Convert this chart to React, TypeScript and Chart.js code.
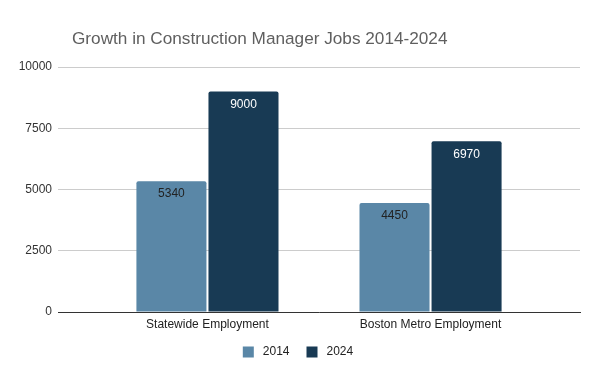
import React, { useEffect, useRef } from "react";
import { Chart, registerables } from "chart.js";

Chart.register(...registerables);

const categories = ["Statewide Employment", "Boston Metro Employment"];
const seriesNames = ["2014", "2024"];
const values2014 = [5340, 4450];
const values2024 = [9000, 6970];
const yTicks = [0, 2500, 5000, 7500, 10000];
const titleText = "Growth in Construction Manager Jobs 2014-2024";

const colors = ["#5a87a7", "#183a54"];
const labelColors = ["#222222", "#ffffff"];
const FONT = "'Liberation Sans', Arial, sans-serif";

const dataLabelPlugin = {
  id: "dataLabels",
  afterDatasetsDraw(chart: any) {
    const ctx = chart.ctx;
    ctx.save();
    ctx.font = `12px ${FONT}`;
    ctx.textAlign = "center";
    ctx.textBaseline = "middle";
    chart.data.datasets.forEach((ds: any, di: number) => {
      const meta = chart.getDatasetMeta(di);
      meta.data.forEach((bar: any, i: number) => {
        const v = ds.data[i].y;
        ctx.fillStyle = labelColors[di];
        ctx.fillText(String(v), bar.x, bar.y + 13);
      });
    });
    ctx.restore();
  },
};

const titleLegendPlugin = {
  id: "titleLegend",
  afterDraw(chart: any) {
    const ctx = chart.ctx;
    ctx.save();
    // title
    ctx.font = `17.2px ${FONT}`;
    ctx.fillStyle = "#5f5f5f";
    ctx.textAlign = "left";
    ctx.textBaseline = "alphabetic";
    ctx.fillText(titleText, 72, 44);
    // legend
    ctx.font = `12px ${FONT}`;
    ctx.textBaseline = "middle";
    const box = 11;
    const gapText = 9;
    const gapItem = 17;
    const widths = seriesNames.map((n) => box + gapText + ctx.measureText(n).width);
    const total = widths.reduce((a, b) => a + b, 0) + gapItem * (seriesNames.length - 1);
    let x = 298 - total / 2;
    const cy = 352;
    seriesNames.forEach((n, i) => {
      ctx.fillStyle = colors[i];
      ctx.fillRect(x, cy - box / 2, box, box);
      ctx.fillStyle = "#222222";
      ctx.fillText(n, x + box + gapText, cy);
      x += widths[i] + gapItem;
    });
    ctx.restore();
  },
};

export default function App() {
  const ref = useRef<HTMLCanvasElement | null>(null);
  useEffect(() => {
    document.body.style.margin = "0";
    const canvas = ref.current!;
    const chart = new Chart(canvas, {
      type: "bar",
      data: {
        datasets: [
          {
            label: seriesNames[0],
            data: values2014.map((y, i) => ({ x: i, y })),
            backgroundColor: colors[0],
            borderRadius: { topLeft: 2, topRight: 2 },
            borderSkipped: "bottom",
          },
          {
            label: seriesNames[1],
            data: values2024.map((y, i) => ({ x: i, y })),
            backgroundColor: colors[1],
            borderRadius: { topLeft: 2, topRight: 2 },
            borderSkipped: "bottom",
          },
        ],
      },
      options: {
        animation: false,
        responsive: false,
        maintainAspectRatio: false,
        categoryPercentage: 0.646,
        barPercentage: 0.972,
        layout: { padding: { left: 0, right: 22, top: 67, bottom: 45 } },
        scales: {
          x: {
            type: "linear",
            offset: false,
            min: -0.67,
            max: 1.67,
            grid: { display: false, drawTicks: false, offset: false },
            border: { display: true, color: "#333333", width: 1 },
            afterBuildTicks: (scale: any) => {
              scale.ticks = categories.map((_, i) => ({ value: i }));
            },
            afterFit: (scale: any) => {
              scale.height = 30;
            },
            ticks: {
              autoSkip: false,
              maxRotation: 0,
              padding: 5,
              color: "#222222",
              font: { family: FONT, size: 12 },
              callback: (v: any) => categories[v as number] ?? "",
            },
          },
          y: {
            min: 0,
            max: 10000,
            afterBuildTicks: (scale: any) => {
              scale.ticks = yTicks.map((v) => ({ value: v }));
            },
            afterFit: (scale: any) => {
              scale.width = 58;
            },
            grid: { color: "#cccccc", drawTicks: false },
            border: { display: false },
            ticks: {
              padding: 6,
              color: "#333333",
              font: { family: FONT, size: 12 },
              callback: (v: any) => String(v),
            },
          },
        },
        plugins: {
          title: { display: false },
          legend: { display: false },
          tooltip: { enabled: false },
        },
      },
      plugins: [dataLabelPlugin, titleLegendPlugin],
    } as any);
    return () => chart.destroy();
  }, []);
  return (
    <div style={{ width: 602, height: 387 }}>
      <canvas ref={ref} width={602} height={387} style={{ display: "block" }} />
    </div>
  );
}
